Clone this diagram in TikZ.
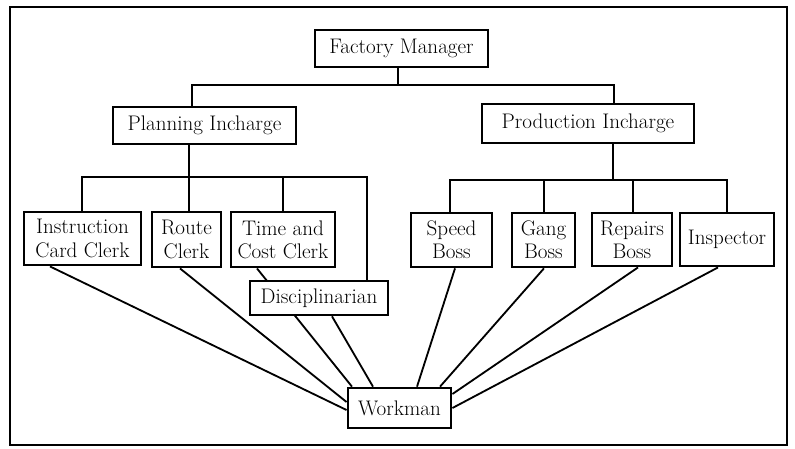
\documentclass[tikz,border=0pt]{standalone}
\usetikzlibrary{backgrounds}
\begin{document}
\begin{tikzpicture}[x=0.025cm, y=-0.025cm,
    box/.style={draw, line width=1.9pt, fill=white, align=center, inner sep=1pt,
      font=\fontsize{15}{16.5}\selectfont},
    link/.style={line width=1.3pt}]
    \useasboundingbox (0,0) rectangle (795,448);
    \draw[line width=1.9pt] (10,7) rectangle (787,445);

    % top levels
    \node[box, minimum width=4.33cm, minimum height=0.93cm] (fm) at (401.5,48.5) {Factory Manager};
    \node[box, minimum width=4.58cm, minimum height=0.93cm] (pi) at (204.5,125.5) {Planning Incharge};
    \node[box, minimum width=5.3cm, minimum height=0.98cm] (pri) at (588,123.5) {Production Incharge};

    % planning side
    \node[box, minimum width=2.93cm, minimum height=1.33cm] (icc) at (82.5,238.5) {Instruction\\Card Clerk};
    \node[box, minimum width=1.73cm, minimum height=1.38cm] (rc) at (186.5,239.5) {Route\\Clerk};
    \node[box, minimum width=2.6cm, minimum height=1.38cm] (tcc) at (283,239.5) {Time and\\Cost Clerk};
    \node[box, minimum width=3.45cm, minimum height=0.85cm] (dis) at (319,298) {Disciplinarian};

    % production side
    \node[box, minimum width=2.03cm, minimum height=1.35cm] (sb) at (451.5,240) {Speed\\Boss};
    \node[box, minimum width=1.58cm, minimum height=1.35cm] (gb) at (543.5,240) {Gang\\Boss};
    \node[box, minimum width=2.0cm, minimum height=1.33cm] (rb) at (632,239.5) {Repairs\\Boss};
    \node[box, minimum width=2.35cm, minimum height=1.33cm] (insp) at (727,239.5) {Inspector};

    \node[box, minimum width=2.58cm, minimum height=1.0cm] (wm) at (399.5,408) {Workman};

    \begin{scope}[on background layer]
    % tree lines
    \draw[link] (fm.south -| 398,0) -- (398,85);
    \draw[link] (pi.north -| 192,0) |- (614,85) -- (pri.north -| 614,0);
    \draw[link] (pi.south -| 189,0) -- (189,177);
    \draw[link] (icc.north -| 82,0) |- (367,177) -- (dis.north -| 367,0);
    \draw[link] (rc.north -| 189,0) -- (189,177);
    \draw[link] (tcc.north -| 283,0) -- (283,177);
    \draw[link] (pri.south -| 613,0) -- (613,180);
    \draw[link] (sb.north -| 450,0) |- (727,180) -- (insp.north -| 727,0);
    \draw[link] (gb.north -| 544,0) -- (544,180);
    \draw[link] (rb.north -| 633,0) -- (633,180);

    % lines to workman
    \draw[link] (icc.south -| 50,0) -- (wm.west |- 0,410);
    \draw[link] (rc.south -| 180,0) -- (wm.west |- 0,402);
    \draw[link] (tcc.south -| 257,0) -- (wm.north -| 352,0);
    \draw[link] (dis.south -| 332,0) -- (wm.north -| 373,0);
    \draw[link] (sb.south -| 455,0) -- (wm.north -| 417,0);
    \draw[link] (gb.south -| 544,0) -- (wm.north -| 440,0);
    \draw[link] (rb.south -| 638,0) -- (wm.east |- 0,394);
    \draw[link] (insp.south -| 718,0) -- (wm.east |- 0,408);
    \end{scope}
\end{tikzpicture}
\end{document}
